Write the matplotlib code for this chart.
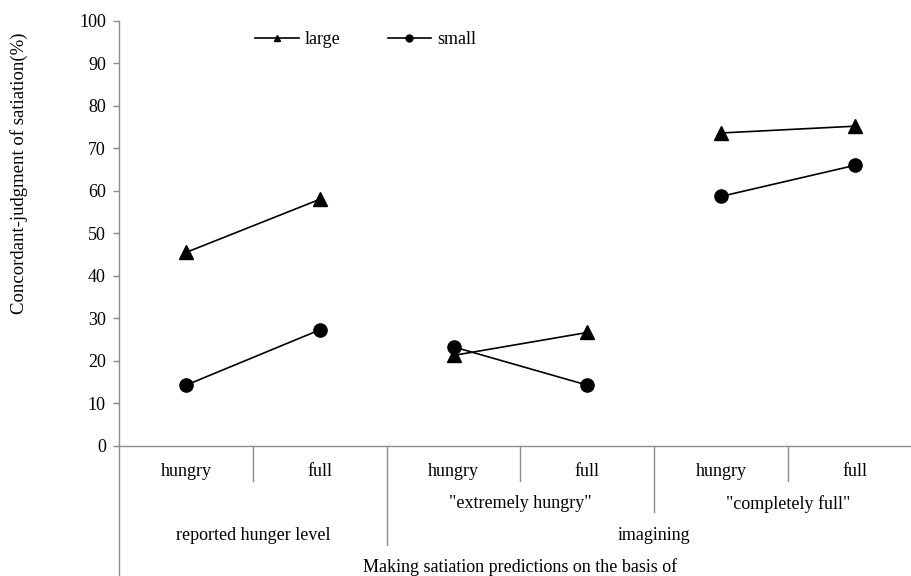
import matplotlib
matplotlib.use("Agg")
import matplotlib.pyplot as plt
import matplotlib.transforms as mtransforms
from matplotlib.lines import Line2D

plt.rcParams['font.family'] = ['Liberation Serif', 'DejaVu Serif']

# ---- data ----
categories = ["hungry", "full", "hungry", "full", "hungry", "full"]
groups_mid = ['"extremely hungry"', '"completely full"']
groups_top = ["reported hunger level", "imagining"]
x_title = "Making satiation predictions on the basis of"
large = [45.5, 58, 21.3, 26.7, 73.6, 75.2]
small = [14.3, 27.3, 23.3, 14.3, 58.7, 66.0]
series_names = ["large", "small"]
y_label = "Concordant-judgment of satiation(%)"
y_ticks = [0, 10, 20, 30, 40, 50, 60, 70, 80, 90, 100]

FS = 13
W, H = 911, 576
fig = plt.figure(figsize=(W / 100, H / 100), dpi=100)

left_px, right_px, top_px, bottom_px = 119, 922, 20.7, 446
ax = fig.add_axes([left_px / W, 1 - bottom_px / H,
                   (right_px - left_px) / W, (bottom_px - top_px) / H])

xs = list(range(len(categories)))
for i in range(0, len(categories), 2):
    ax.plot(xs[i:i + 2], large[i:i + 2], color='black', lw=1.2,
            marker='^', markersize=10, clip_on=False)
    ax.plot(xs[i:i + 2], small[i:i + 2], color='black', lw=1.2,
            marker='o', markersize=9.5, clip_on=False)

ax.set_xlim(-0.5, len(categories) - 0.5)
ax.set_ylim(0, 100)
ax.set_yticks(y_ticks)
ax.set_yticklabels([str(t) for t in y_ticks], fontsize=FS)
ax.set_xticks([])
for s in ['top', 'right']:
    ax.spines[s].set_visible(False)
for s in ['left', 'bottom']:
    ax.spines[s].set_color('#8c8c8c')
    ax.spines[s].set_linewidth(1.0)
ax.tick_params(axis='y', length=4.5, width=1.0, color='#8c8c8c', pad=5)

# y label
fig.text(19 / W, 1 - 173 / H, y_label, rotation=90, ha='center', va='center', fontsize=13.5)

# category axis structure
trans = mtransforms.blended_transform_factory(ax.transData, fig.transFigure)
def fy(px):
    return 1 - px / H

gray = '#8c8c8c'
dividers = [(0.5, 481), (1.5, 545), (2.5, 481), (3.5, 512), (4.5, 481)]
for xd, yend in dividers:
    fig.add_artist(Line2D([xd, xd], [fy(bottom_px), fy(yend)], transform=trans,
                          color=gray, lw=1.0))
# left axis extension
fig.add_artist(Line2D([left_px / W, left_px / W], [fy(bottom_px), 0],
                      transform=fig.transFigure, color=gray, lw=1.0))

for x, lab in zip(xs, categories):
    fig.text(x, fy(471), lab, transform=trans, ha='center', va='center', fontsize=FS)
for x, lab in zip([2.5, 4.5], groups_mid):
    fig.text(x, fy(504), lab, transform=trans, ha='center', va='center', fontsize=FS)
for x, lab in zip([0.5, 3.5], groups_top):
    fig.text(x, fy(536), lab, transform=trans, ha='center', va='center', fontsize=FS)
fig.text(2.5, fy(567), x_title, transform=trans, ha='center', va='center', fontsize=FS)

# legend
handles = [Line2D([], [], color='black', lw=1.2, marker='^', markersize=5),
           Line2D([], [], color='black', lw=1.2, marker='o', markersize=5)]
fig.legend(handles, series_names, loc='center left',
           bbox_to_anchor=(239 / W, fy(40)), ncol=2, frameon=False,
           fontsize=FS, handlelength=2.4, handletextpad=0.35, columnspacing=2.6,
           borderpad=0.4)

fig.savefig("out.png", dpi=100)
